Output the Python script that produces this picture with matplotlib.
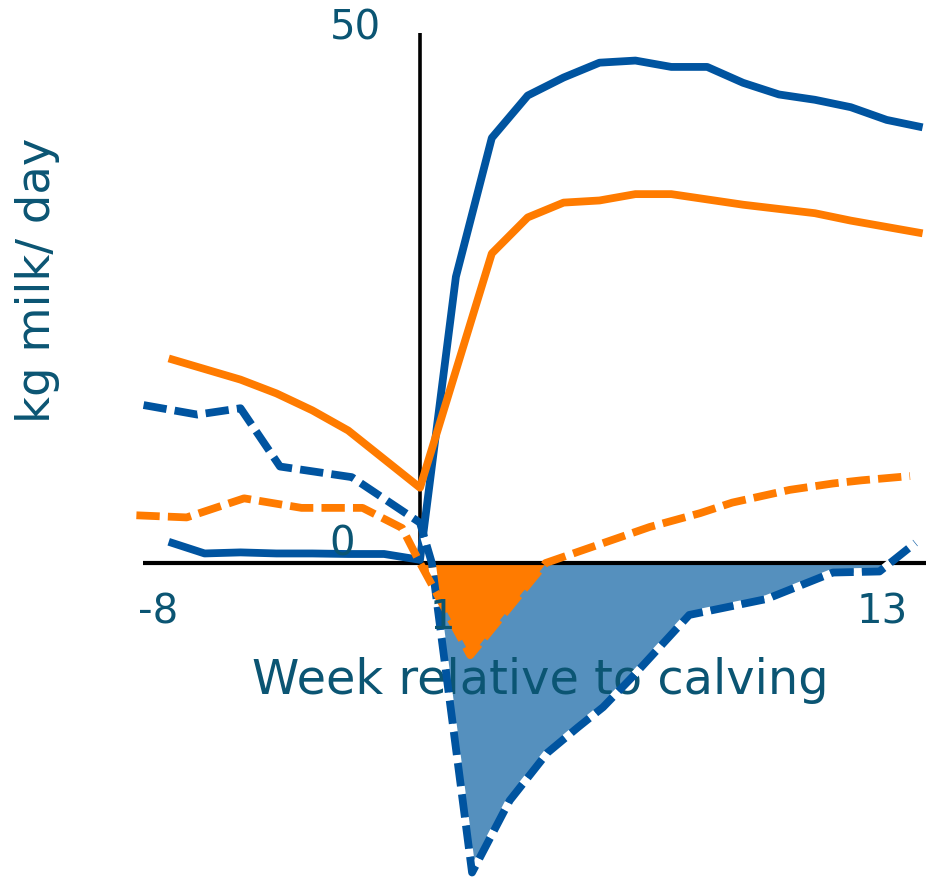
import numpy as np
import matplotlib
matplotlib.use("Agg")
import matplotlib.pyplot as plt

# weeks relative to calving (0 = calving) and milk, kg/day
wk_blue = [-7, -6, -5, -4, -3, -2, -1, 0, 1, 2, 3, 4, 5, 6, 7, 8, 9, 10, 11, 12, 13, 14]
kg_blue = [2.0, 0.9, 1.0, 0.9, 0.9, 0.85, 0.85, 0.3, 27.0, 40.1, 44.1, 45.8, 47.2, 47.4,
           46.8, 46.8, 45.3, 44.2, 43.7, 43.0, 41.8, 41.1]

wk_orange = [-7, -5, -4, -3, -2, 0, 2, 3, 4, 5, 6, 7, 9, 10, 11, 12, 14]
kg_orange = [19.3, 17.3, 16.0, 14.4, 12.5, 7.1, 29.2, 32.6, 34.0, 34.2, 34.8, 34.8,
             33.8, 33.4, 33.0, 32.3, 31.1]

# dashed series (balance-type curves)
wk_blue_d = [-7.7, -6.2, -5.0, -3.9, -1.9, 0, 0.33, 1.45, 2.5, 3.55, 4.4, 5.1, 5.9,
             7.5, 9.65, 11.5, 12.8, 13.8]
kg_blue_d = [14.9, 14.0, 14.6, 9.1, 8.1, 3.8, 0.0, -29.2, -22.4, -17.9, -15.5, -13.6,
             -10.8, -4.9, -3.4, -0.9, -0.8, 1.9]

wk_orange_d = [-7.9, -6.5, -4.9, -3.3, -1.6, -0.5, 0, 1.4, 3.5, 6.4, 7.8, 8.7, 10.3,
               11.5, 12.3, 13.65]
kg_orange_d = [4.5, 4.3, 6.1, 5.2, 5.2, 3.3, 0.0, -8.7, 0.0, 3.4, 4.7, 5.7, 6.9,
               7.5, 7.8, 8.2]

tick_labels = ["-8", "1", "13"]
y_labels = ["0", "50"]

BLUE = "#0054a0"
ORANGE = "#ff7b00"
FILL_BLUE = "#5590be"
TXT = "#0b5573"

fig = plt.figure(figsize=(9.26, 8.8), dpi=100)
ax = fig.add_axes([0, 0, 1, 1])
ax.set_xlim(-420 / 35.9, 506 / 35.9)
ax.set_ylim(-317 / 10.6, 563 / 10.6)
ax.axis("off")

xb = np.array(wk_blue_d)
yb = np.array(kg_blue_d)
xo = np.array(wk_orange_d)
yo = np.array(kg_orange_d)
ax.fill_between(xb, yb, 0, where=yb <= 0, interpolate=True, color=FILL_BLUE, lw=0, zorder=1)
ax.fill_between(xo, yo, 0, where=yo <= 0, interpolate=True, color=ORANGE, lw=0, zorder=2)

# axes drawn by hand like the original slide
ax.plot([-7.72, 14.2], [0, 0], color="black", lw=3, solid_capstyle="butt", zorder=2.5)
ax.plot([0, 0], [0, 50], color="black", lw=2.6, solid_capstyle="butt", zorder=2.5)

lw = 5.6
ax.plot(wk_blue, kg_blue, color=BLUE, lw=lw, solid_capstyle="butt", zorder=3)
ax.plot(wk_orange, kg_orange, color=ORANGE, lw=lw, solid_capstyle="butt", zorder=3)
ax.plot(wk_blue_d, kg_blue_d, color=BLUE, lw=lw, dashes=(3, 1.05), gapcolor="white",
        dash_capstyle="butt", zorder=3)
ax.plot(wk_orange_d, kg_orange_d, color=ORANGE, lw=lw, dashes=(3, 1.05),
        dash_capstyle="butt", zorder=3)

fs = 29
tr = ax.transAxes
W, H = 926, 880
kw = dict(transform=tr, ha="center", va="center", fontsize=fs, color=TXT, zorder=3.5)
ax.text(158 / W, 1 - 612 / H, tick_labels[0], **kw)
ax.text(442 / W, 1 - 618 / H, tick_labels[1], **kw)
ax.text(882 / W, 1 - 612 / H, tick_labels[2], **kw)
ax.text(342 / W, 1 - 545 / H, y_labels[0], **kw)
ax.text(355 / W, 1 - 28 / H, y_labels[1], **kw)

ax.text(540 / W, 1 - 680 / H, "Week relative to calving", transform=tr, ha="center",
        va="center", fontsize=34.5, color=TXT, zorder=2.7)
ax.text(38 / W, 1 - 280 / H, "kg milk/ day", transform=tr, ha="center", va="center",
        rotation=90, fontsize=33.5, color=TXT)

fig.savefig("out.png", dpi=100)
